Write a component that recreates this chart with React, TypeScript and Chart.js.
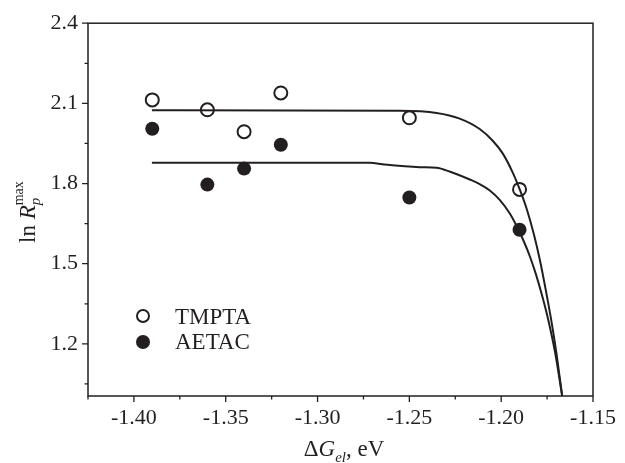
import React, { useEffect, useRef } from "react";
import { Chart, registerables } from "chart.js";

Chart.register(...registerables);

// ---- data ----
const dG = [-1.39, -1.36, -1.34, -1.32, -1.25, -1.19];
const tmpta = [2.113, 2.076, 1.994, 2.139, 2.046, 1.778];
const aetac = [2.005, 1.796, 1.856, 1.945, 1.748, 1.627];

const fitTx = [-1.3902, -1.2554, -1.2352, -1.2226, -1.2117, -1.2046, -1.1991, -1.1937, -1.1899, -1.1860, -1.1822, -1.1789, -1.1757, -1.1724, -1.1697, -1.1668];
const fitTy = [2.074, 2.072, 2.064, 2.043, 2.004, 1.960, 1.912, 1.841, 1.778, 1.703, 1.610, 1.513, 1.401, 1.275, 1.155, 1.006];

const fitAx = [-1.3902, -1.2717, -1.2635, -1.2444, -1.2352, -1.2281, -1.2171, -1.2117, -1.2062, -1.2008, -1.1953, -1.1915, -1.1877, -1.1844, -1.1811, -1.1778, -1.1746, -1.1707, -1.1668];
const fitAy = [1.878, 1.878, 1.871, 1.861, 1.859, 1.845, 1.815, 1.798, 1.774, 1.739, 1.688, 1.640, 1.584, 1.528, 1.461, 1.383, 1.297, 1.170, 1.006];

const xMajor = [-1.40, -1.35, -1.30, -1.25, -1.20, -1.15];
const xMinor = [-1.425, -1.375, -1.325, -1.275, -1.225, -1.175];
const yMajor = [1.2, 1.5, 1.8, 2.1, 2.4];
const yMinor = [1.05, 1.35, 1.65, 1.95, 2.25];

const legendLabels = ["TMPTA", "AETAC"];

const DARK = "#231f20";
const FONT = "'Liberation Serif', 'Times New Roman', serif";

const toPts = (xs: number[], ys: number[]) => xs.map((x, i) => ({ x, y: ys[i] }));

const decorPlugin = {
  id: "decor",
  afterDraw(chart: any) {
    const ctx = chart.ctx as CanvasRenderingContext2D;
    const { left, right, top, bottom } = chart.chartArea;
    const xs = chart.scales.x;
    const ys = chart.scales.y;
    ctx.save();
    ctx.strokeStyle = DARK;
    ctx.lineWidth = 1.5;
    ctx.strokeRect(left, top, right - left, bottom - top);
    ctx.lineWidth = 1.3;
    ctx.beginPath();
    xMajor.forEach((v) => {
      const p = xs.getPixelForValue(v);
      ctx.moveTo(p, bottom);
      ctx.lineTo(p, bottom + 6);
    });
    xMinor.forEach((v) => {
      const p = xs.getPixelForValue(v);
      ctx.moveTo(p, bottom);
      ctx.lineTo(p, bottom + 3.5);
    });
    yMajor.forEach((v) => {
      const p = ys.getPixelForValue(v);
      ctx.moveTo(left, p);
      ctx.lineTo(left - 6, p);
    });
    yMinor.forEach((v) => {
      const p = ys.getPixelForValue(v);
      ctx.moveTo(left, p);
      ctx.lineTo(left - 3.5, p);
    });
    ctx.stroke();

    ctx.fillStyle = DARK;
    ctx.textBaseline = "alphabetic";
    ctx.textAlign = "left";

    // x title: ΔG_el, eV
    const parts: [string, string, number][] = [
      ["\u0394", `23px ${FONT}`, 0],
      ["G", `italic 23px ${FONT}`, 0],
      ["el", `italic 15px ${FONT}`, 6],
      [", eV", `23px ${FONT}`, 0],
    ];
    let total = 0;
    parts.forEach(([t, f]) => {
      ctx.font = f;
      total += ctx.measureText(t).width;
    });
    let cx = 344 - total / 2;
    parts.forEach(([t, f, dy]) => {
      ctx.font = f;
      ctx.fillText(t, cx, 456 + dy);
      cx += ctx.measureText(t).width;
    });

    // y title: ln R_p^max
    ctx.save();
    ctx.translate(35, 243);
    ctx.rotate(-Math.PI / 2);
    ctx.font = `23px ${FONT}`;
    ctx.fillText("ln ", 0, 0);
    let w = ctx.measureText("ln ").width;
    ctx.font = `italic 23px ${FONT}`;
    ctx.fillText("R", w, 0);
    w += ctx.measureText("R").width;
    ctx.font = `italic 15px ${FONT}`;
    ctx.fillText("p", w, 5);
    ctx.font = `14px ${FONT}`;
    ctx.fillText("max", w, -12);
    ctx.restore();

    // legend
    ctx.lineWidth = 2;
    ctx.beginPath();
    ctx.arc(143, 316, 6, 0, Math.PI * 2);
    ctx.fillStyle = "#fff";
    ctx.fill();
    ctx.stroke();
    ctx.beginPath();
    ctx.arc(143, 342, 7, 0, Math.PI * 2);
    ctx.fillStyle = DARK;
    ctx.fill();
    ctx.font = `23px ${FONT}`;
    ctx.fillText(legendLabels[0], 175, 323.5);
    ctx.fillText(legendLabels[1], 175, 348.5);
    ctx.restore();
  },
};

export default function App() {
  const ref = useRef<HTMLCanvasElement | null>(null);
  useEffect(() => {
    if (!ref.current) return;
    const chart = new Chart(ref.current, {
      type: "scatter",
      data: {
        datasets: [
          {
            label: "TMPTA fit",
            data: toPts(fitTx, fitTy),
            showLine: true,
            pointRadius: 0,
            pointHoverRadius: 0,
            borderColor: DARK,
            borderWidth: 2,
            cubicInterpolationMode: "monotone",
            fill: false,
          },
          {
            label: "AETAC fit",
            data: toPts(fitAx, fitAy),
            showLine: true,
            pointRadius: 0,
            pointHoverRadius: 0,
            borderColor: DARK,
            borderWidth: 2,
            cubicInterpolationMode: "monotone",
            fill: false,
          },
          {
            label: legendLabels[0],
            data: toPts(dG, tmpta),
            pointRadius: 6.5,
            pointHoverRadius: 6.5,
            pointBackgroundColor: "#ffffff",
            pointBorderColor: DARK,
            pointBorderWidth: 2,
          },
          {
            label: legendLabels[1],
            data: toPts(dG, aetac),
            pointRadius: 7,
            pointHoverRadius: 7,
            pointBackgroundColor: DARK,
            pointBorderColor: DARK,
            pointBorderWidth: 0,
          },
        ],
      } as any,
      options: {
        responsive: true,
        maintainAspectRatio: false,
        animation: false,
        events: [],
        layout: { padding: { top: 22, right: 32, left: 0, bottom: 0 } },
        plugins: { legend: { display: false }, tooltip: { enabled: false } },
        scales: {
          x: {
            type: "linear",
            min: -1.425,
            max: -1.15,
            grid: { display: false, drawTicks: false },
            border: { display: false },
            afterBuildTicks: (s: any) => {
              s.ticks = xMajor.map((v) => ({ value: v }));
            },
            afterFit: (s: any) => {
              s.height = 67;
            },
            ticks: {
              color: DARK,
              padding: 9,
              maxRotation: 0,
              autoSkip: false,
              font: { family: FONT, size: 22 },
              callback: (v: any) => Number(v).toFixed(2),
            },
          },
          y: {
            type: "linear",
            min: 1.005,
            max: 2.4,
            grid: { display: false, drawTicks: false },
            border: { display: false },
            afterBuildTicks: (s: any) => {
              s.ticks = yMajor.map((v) => ({ value: v }));
            },
            afterFit: (s: any) => {
              s.width = 88;
            },
            ticks: {
              color: DARK,
              padding: 10,
              autoSkip: false,
              font: { family: FONT, size: 22 },
              callback: (v: any) => Number(v).toFixed(1),
            },
          },
        },
      } as any,
      plugins: [decorPlugin],
    });
    return () => chart.destroy();
  }, []);
  return (
    <div style={{ position: "fixed", left: 0, top: 0, width: 625, height: 463, background: "#fff" }}>
      <canvas ref={ref} />
    </div>
  );
}
